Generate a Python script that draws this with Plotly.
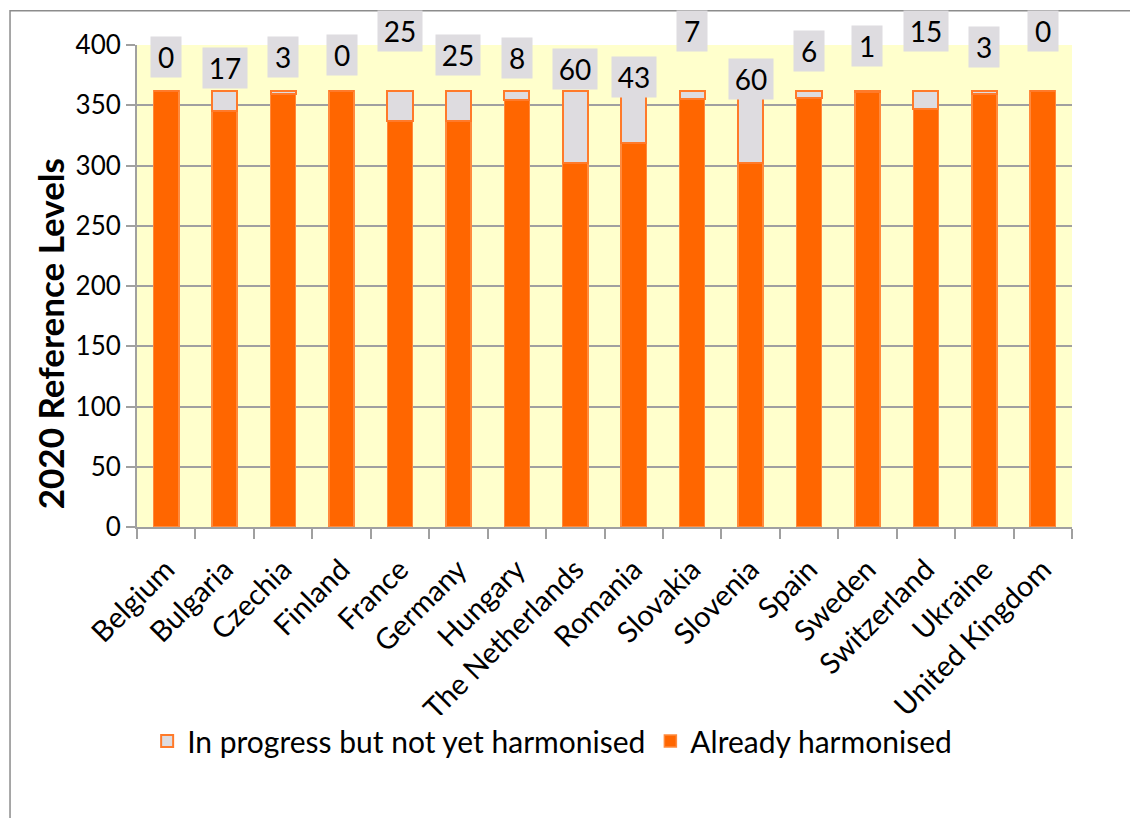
import plotly.graph_objects as go

countries = ["Belgium", "Bulgaria", "Czechia", "Finland", "France", "Germany", "Hungary",
             "The Netherlands", "Romania", "Slovakia", "Slovenia", "Spain", "Sweden",
             "Switzerland", "Ukraine", "United Kingdom"]
in_progress = [0, 17, 3, 0, 25, 25, 8, 60, 43, 7, 60, 6, 1, 15, 3, 0]
harmonised = [362, 345, 359, 362, 337, 337, 354, 302, 319, 355, 302, 356, 361, 347, 359, 362]

# vertical pixel offsets of the value labels above the bar tops (layout only)
label_shift = [34, 23, 34, 36, 60, 36, 33, 22, 14, 60, 12, 40, 45, 60, 44, 60]

FONT = "Lato"
ORANGE = "#FF6600"
GREY = "#DEDCE0"

fig = go.Figure()
fig.add_trace(go.Bar(
    x=countries, y=harmonised, name="Already harmonised",
    marker=dict(color=ORANGE, line=dict(color="#FF8A3D", width=1.5)),
    width=0.43,
))
fig.add_trace(go.Bar(
    x=countries, y=in_progress, name="In progress but not yet harmonised",
    marker=dict(color=GREY, line=dict(color="#FF7A2A", width=2)),
    width=0.43,
))

totals = [h + p for h, p in zip(harmonised, in_progress)]
for c, t, v, s in zip(countries, totals, in_progress, label_shift):
    txt = str(v)
    fig.add_annotation(
        x=c, y=t, text=txt, showarrow=False, yanchor="middle", yshift=s,
        bgcolor=GREY, borderpad=0, width=30 if len(txt) == 1 else 44, height=40,
        font=dict(family=FONT, size=28, color="black"),
    )

# y-axis title (placed as in the reference, slightly below the plot-area centre)
fig.add_annotation(
    xref="paper", yref="paper", x=-0.093, y=0.40, xanchor="center", yanchor="middle",
    text="<b>2020 Reference Levels</b>", textangle=-90, showarrow=False,
    font=dict(family=FONT, size=35, color="black"),
)

fig.add_shape(type="rect", xref="paper", yref="paper",
              x0=-0.1358, x1=1.0642, y0=-0.62, y1=1.0712,
              line=dict(color="#8C8C8C", width=1.5), fillcolor="rgba(0,0,0,0)", layer="below")

fig.update_layout(
    width=1138, height=818,
    margin=dict(l=129, r=74, t=37, b=299),
    barmode="stack",
    paper_bgcolor="white",
    plot_bgcolor="#FFFFCC",
    font=dict(family=FONT, color="black"),
    showlegend=True,
    legend=dict(orientation="h", x=0.444, xanchor="center", y=-0.444, yanchor="middle",
                traceorder="reversed", font=dict(family=FONT, size=30),
                itemwidth=30, tracegroupgap=0),
    xaxis=dict(
        type="category", tickangle=-45, tickfont=dict(family=FONT, size=29),
        showline=True, linecolor="#A0A0A0", linewidth=2,
        ticks="outside", tickson="boundaries", ticklen=10, tickcolor="#A0A0A0", tickwidth=2,
        ticklabelstandoff=12,
        showgrid=False,
    ),
    yaxis=dict(
        range=[0, 400], dtick=50, tickfont=dict(family=FONT, size=26),
        showline=True, linecolor="#A0A0A0", linewidth=2,
        ticks="outside", ticklen=9, tickcolor="#A0A0A0", tickwidth=2,
        showgrid=True, gridcolor="#A0A0A0", gridwidth=1.5,
        zeroline=False,
    ),
)

fig.write_html("out.html")
